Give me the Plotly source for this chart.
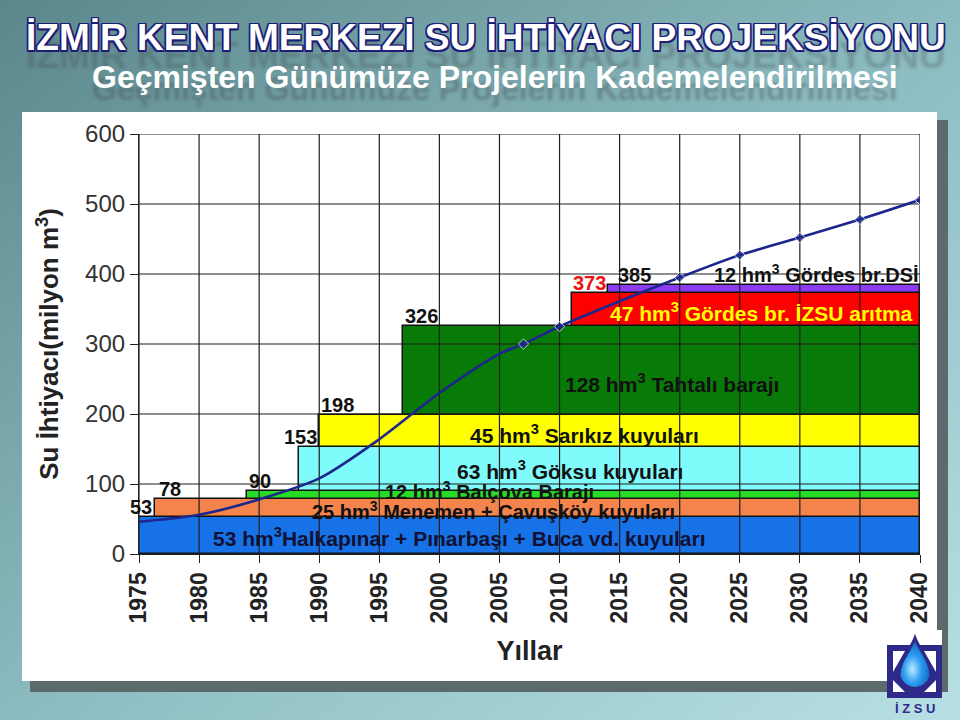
import base64
import plotly.graph_objects as go

# ---------------- data ----------------
tick_years = [1975, 1980, 1985, 1990, 1995, 2000, 2005, 2010, 2015, 2020, 2025, 2030, 2035, 2040]
tick_values = [0, 100, 200, 300, 400, 500, 600]

# supply projects (stacked steps): start year, amount (hm3), label
project_start = [1975, 1976.3, 1984, 1988.3, 1990, 1997, 2011, 2014]
project_amount = [53, 25, 12, 63, 45, 128, 47, 12]
project_end = 2040
project_names = [
    "53 hm<sup>3</sup>Halkapınar + Pınarbaşı + Buca vd. kuyuları",
    "25 hm<sup>3</sup> Menemen + Çavuşköy kuyuları",
    "12 hm<sup>3</sup> Balçova Barajı",
    "63 hm<sup>3</sup> Göksu kuyuları",
    "45 hm<sup>3</sup> Sarıkız kuyuları",
    "128 hm<sup>3</sup> Tahtalı barajı",
    "47 hm<sup>3</sup> Gördes br. İZSU arıtma",
    "12 hm<sup>3</sup> Gördes br.DSİ",
]
cumulative_labels = ["53", "78", "90", "153", "198", "326", "373", "385"]

# demand curve
demand_years = [1975, 1980, 1985, 1990, 1995, 2000, 2005, 2007, 2010, 2015, 2020, 2025, 2030, 2035, 2040]
demand_values = [46, 56, 78, 108, 164, 230, 286, 300, 325, 361, 395, 427, 452, 478, 506]
demand_marked = [False, False, False, False, False, False, False, True, True, False, True, True, True, True, True]

# ---------------- styles ----------------
bar_colors = ["#1672e6", "#f4844c", "#26dc26", "#80fbfb", "#ffff00", "#087a08", "#ff0000", "#8b3cf0"]
FONT = "Liberation Sans, Arial, sans-serif"

# plot area geometry in pixels
L, R, T, B = 139, 40, 134, 166
W, H = 960, 720
PW, PH = W - L - R, H - T - B


def px(x):
    return (x - L) / PW


def py(y):
    return (H - B - y) / PH


fig = go.Figure()

# stacked project steps as horizontal bars
bottom = 0
bottoms = []
for i, amt in enumerate(project_amount):
    bottoms.append(bottom)
    fig.add_trace(go.Bar(
        orientation="h",
        y=[bottom + amt / 2], width=[amt],
        base=[project_start[i]], x=[project_end - project_start[i]],
        marker=dict(color=bar_colors[i], line=dict(color="#111111", width=1.5)),
        showlegend=False, hoverinfo="skip",
    ))
    bottom += amt

# grid on top of steps
gx, gy = [], []
for t in tick_years:
    gx += [t, t, None]
    gy += [tick_values[0], tick_values[-1], None]
for v in tick_values:
    gx += [tick_years[0], tick_years[-1], None]
    gy += [v, v, None]
fig.add_trace(go.Scatter(x=gx, y=gy, mode="lines", line=dict(color="#1e1e1e", width=1.2),
                         showlegend=False, hoverinfo="skip", cliponaxis=False))

# demand curve
fig.add_trace(go.Scatter(
    x=demand_years, y=demand_values, mode="lines+markers",
    line=dict(color="#1c268c", width=2.6, shape="spline", smoothing=0.8),
    marker=dict(symbol="diamond", size=[8 if m else 0 for m in demand_marked], color="#1c268c"),
    showlegend=False, hoverinfo="skip",
))

annotations = []

# project labels inside steps
label_x = [2001.7, 2004.5, 2004.2, 2010.9, 2012.1, 2019.4, 2026.8]
label_shift = [-2, -2, 5, -1, -3, -12, -3]
label_size = [21, 20, 20, 21, 21, 21, 21]
label_color = ["#111133", "#111111", "#111111", "#111111", "#111111", "#111111", "#ffff00"]
for i in range(7):
    annotations.append(dict(
        x=label_x[i], y=bottoms[i] + project_amount[i] / 2, xref="x", yref="y",
        xanchor="center", yanchor="middle",
        text="<b>" + project_names[i] + "</b>", showarrow=False, yshift=label_shift[i],
        font=dict(family=FONT, size=label_size[i], color=label_color[i]),
    ))
annotations.append(dict(
    x=2031.4, y=bottoms[7] + project_amount[7], xref="x", yref="y",
    xanchor="center", yanchor="bottom",
    text="<b>" + project_names[7] + "</b>", showarrow=False, yshift=-3,
    font=dict(family=FONT, size=20, color="#111111"),
))

# cumulative totals
cum_x = [project_start[1], project_start[1], project_start[2], project_start[4],
         project_start[4], project_start[5], project_start[7], project_start[7]]
cum_anchor = ["right", "left", "left", "right", "left", "left", "right", "left"]
cum_xshift = [-1, 2, 0, 0, 0, 0, 0, 8]
cum_color = ["#111111"] * 6 + ["#ee1111", "#111111"]
tops = [bottoms[i] + project_amount[i] for i in range(8)]
for i in range(8):
    annotations.append(dict(
        x=cum_x[i], y=tops[i], xref="x", yref="y", xanchor=cum_anchor[i], yanchor="bottom",
        text="<b>" + cumulative_labels[i] + "</b>", showarrow=False, xshift=cum_xshift[i], yshift=-3,
        font=dict(family=FONT, size=20, color=cum_color[i]),
    ))

# titles
navy = "#1d1d78"
outline = ", ".join(f"{a}px {b}px 0 {navy}" for a in (-1.5, 0, 1.5) for b in (-1.5, 0, 1.5) if a or b)
annotations.append(dict(
    x=px(486), y=py(38), xref="paper", yref="paper", xanchor="center", yanchor="middle",
    showarrow=False,
    text="<b>İZMİR KENT MERKEZİ SU İHTİYACI PROJEKSİYONU</b>",
    font=dict(family=FONT, size=37, color="#ffffff",
              shadow=outline + ", 0px 18px 3px rgba(60,60,60,0.25)"),
))
annotations.append(dict(
    x=px(495), y=py(77), xref="paper", yref="paper", xanchor="center", yanchor="middle",
    showarrow=False,
    text="<b>Geçmişten Günümüze Projelerin Kademelendirilmesi</b>",
    font=dict(family=FONT, size=32, color="#ffffff",
              shadow="0px 12px 3px rgba(60,60,60,0.3)"),
))
annotations.append(dict(
    x=px(915), y=py(708), xref="paper", yref="paper", xanchor="center", yanchor="middle",
    showarrow=False,
    text="<b>İ Z S U</b>", font=dict(family=FONT, size=13, color="#2e2a8a"),
))

# background (gradient, panel with shadow, logo) as an svg image
svg = """<svg xmlns="http://www.w3.org/2000/svg" width="960" height="720" viewBox="0 0 960 720">
<defs>
<linearGradient id="bg" x1="0" y1="0" x2="1" y2="1">
<stop offset="0" stop-color="#5b878c"/><stop offset="0.55" stop-color="#8fbfc4"/><stop offset="1" stop-color="#b8e0e4"/>
</linearGradient>
<radialGradient id="drop" cx="0.42" cy="0.62" r="0.62">
<stop offset="0" stop-color="#b8ecff"/><stop offset="0.45" stop-color="#2d9df0"/><stop offset="1" stop-color="#0a5cb6"/>
</radialGradient>
</defs>
<rect width="960" height="720" fill="url(#bg)"/>
<rect x="30" y="120" width="918" height="572" fill="#5c6a6b"/>
<rect x="22" y="112" width="915" height="569" fill="#ffffff"/>
<rect x="880" y="630" width="62" height="16" fill="#ffffff"/>
<rect x="887" y="645" width="55" height="53" fill="#2e2a8a"/>
<path d="M893,651 L905,651 L893,672 Z M936,651 L924,651 L936,672 Z M893,692 L905,692 L893,680 Z M936,692 L924,692 L936,680 Z" fill="#ffffff"/>
<path d="M915,638 C920,651 931,661 931,676 A16.5,16.5 0 0 1 899,676 C899,661 910,651 915,638 Z" fill="url(#drop)" stroke="#2e2a8a" stroke-width="3"/>
</svg>"""
src = "data:image/svg+xml;base64," + base64.b64encode(svg.encode("utf-8")).decode("ascii")

fig.update_layout(
    width=W, height=H,
    margin=dict(l=L, r=R, t=T, b=B, pad=0),
    paper_bgcolor="#8fbfc4", plot_bgcolor="#ffffff",
    barmode="overlay", bargap=0,
    annotations=annotations,
    images=[dict(source=src, xref="paper", yref="paper", x=px(0), y=py(0),
                 sizex=W / PW, sizey=H / PH, xanchor="left", yanchor="top",
                 sizing="stretch", layer="below")],
    xaxis=dict(
        range=[tick_years[0], tick_years[-1]], tickvals=tick_years,
        ticktext=[f"<b>{t}</b>" for t in tick_years], tickangle=-90,
        ticks="outside", ticklen=8, tickcolor="#222222", tickwidth=1.2,
        showgrid=False, zeroline=False, showline=True, linecolor="#222222", linewidth=1.2,
        tickfont=dict(family=FONT, size=23, color="#222222"),
        title=dict(text="<b>Yıllar</b>", standoff=18,
                   font=dict(family=FONT, size=27, color="#222222")),
        automargin=False, fixedrange=True,
    ),
    yaxis=dict(
        range=[tick_values[0], tick_values[-1]], tickvals=tick_values,
        ticks="outside", ticklen=8, tickcolor="#222222", tickwidth=1.2,
        showgrid=False, zeroline=False, showline=True, linecolor="#222222", linewidth=1.2,
        tickfont=dict(family=FONT, size=24, color="#333333"),
        title=dict(text="<b>Su İhtiyacı(milyon m<sup>3</sup>)</b>", standoff=18,
                   font=dict(family=FONT, size=26, color="#222222")),
        automargin=False, fixedrange=True,
    ),
)

fig.write_html("out.html")
